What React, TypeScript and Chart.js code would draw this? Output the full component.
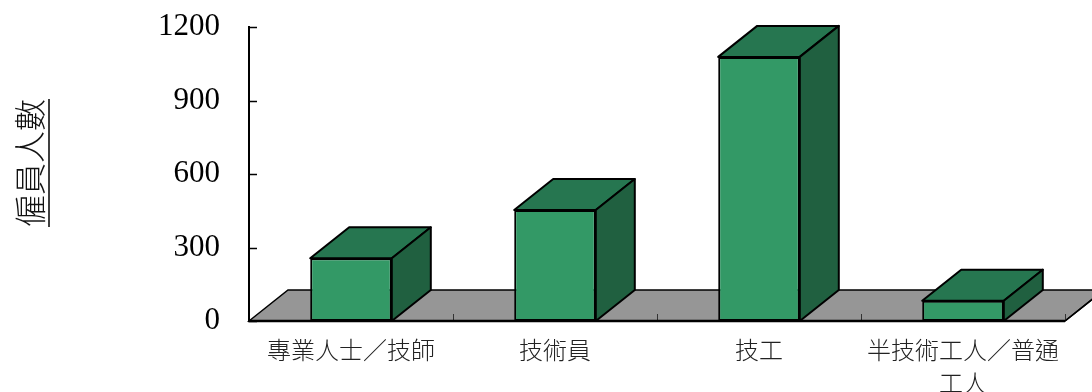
import React, { useEffect, useRef } from "react";
import { Chart, registerables } from "chart.js";

Chart.register(...registerables);

const categories: (string | string[])[] = [
  "專業人士／技師",
  "技術員",
  "技工",
  ["半技術工人／普通", "工人"],
];
const employees: number[] = [256, 453, 1078, 83];
const yTicks: number[] = [0, 300, 600, 900, 1200];
const yTitle = "僱員人數";

const DEPTH_X = 39;
const DEPTH_Y = -31;

const threeD = {
  id: "threeD",
  beforeDatasetsDraw(chart: any) {
    const { ctx, chartArea } = chart;
    const { left, right, bottom } = chartArea;
    ctx.save();
    // floor
    ctx.beginPath();
    ctx.moveTo(left, bottom);
    ctx.lineTo(left + DEPTH_X, bottom + DEPTH_Y);
    ctx.lineTo(right + DEPTH_X, bottom + DEPTH_Y);
    ctx.lineTo(right, bottom);
    ctx.closePath();
    ctx.fillStyle = "#969696";
    ctx.fill();
    ctx.lineWidth = 1.5;
    ctx.strokeStyle = "#000";
    ctx.stroke();
    // category tick marks
    const n = categories.length;
    const step = (right - left) / n;
    ctx.lineWidth = 1;
    ctx.strokeStyle = "#333";
    for (let i = 1; i <= n; i++) {
      const x = Math.round(left + step * i) + 0.5;
      ctx.beginPath();
      ctx.moveTo(x, bottom);
      ctx.lineTo(x, bottom - 7);
      ctx.stroke();
    }
    ctx.restore();
  },
  afterDatasetsDraw(chart: any) {
    const { ctx, chartArea } = chart;
    const meta = chart.getDatasetMeta(0);
    ctx.save();
    ctx.lineWidth = 2;
    ctx.strokeStyle = "#000";
    ctx.lineJoin = "round";
    meta.data.forEach((bar: any) => {
      const { x, y, width, base } = bar.getProps(["x", "y", "width", "base"], true);
      const xl = x - width / 2;
      const xr = x + width / 2;
      // top face
      ctx.beginPath();
      ctx.moveTo(xl, y);
      ctx.lineTo(xl + DEPTH_X, y + DEPTH_Y);
      ctx.lineTo(xr + DEPTH_X, y + DEPTH_Y);
      ctx.lineTo(xr, y);
      ctx.closePath();
      ctx.fillStyle = "#267650";
      ctx.fill();
      ctx.stroke();
      // side face
      ctx.beginPath();
      ctx.moveTo(xr, y);
      ctx.lineTo(xr + DEPTH_X, y + DEPTH_Y);
      ctx.lineTo(xr + DEPTH_X, base + DEPTH_Y);
      ctx.lineTo(xr, base);
      ctx.closePath();
      ctx.fillStyle = "#206040";
      ctx.fill();
      ctx.stroke();
    });
    // axes
    const ys = chart.scales.y;
    const { left, right, top, bottom } = chartArea;
    ctx.lineWidth = 2;
    ctx.beginPath();
    ctx.moveTo(left, top - 1);
    ctx.lineTo(left, bottom);
    ctx.stroke();
    ctx.lineWidth = 1.5;
    yTicks.forEach((v) => {
      const py = Math.round(ys.getPixelForValue(v)) + 0.5;
      ctx.beginPath();
      ctx.moveTo(left, py);
      ctx.lineTo(left + 8, py);
      ctx.stroke();
    });
    ctx.lineWidth = 2.5;
    ctx.beginPath();
    ctx.moveTo(left - 1, bottom);
    ctx.lineTo(right, bottom);
    ctx.stroke();
    ctx.lineWidth = 1.5;
    ctx.beginPath();
    ctx.moveTo(right, bottom);
    ctx.lineTo(right + DEPTH_X, bottom + DEPTH_Y);
    ctx.stroke();
    // y title, rotated with underline
    ctx.translate(30, (top + bottom) / 2 - 11);
    ctx.rotate(-Math.PI / 2);
    ctx.font = "300 32px 'Noto Sans CJK TC'";
    ctx.fillStyle = "#111";
    ctx.textAlign = "center";
    ctx.textBaseline = "middle";
    ctx.fillText(yTitle, 0, 0);
    const w = ctx.measureText(yTitle).width;
    ctx.lineWidth = 1.5;
    ctx.beginPath();
    ctx.moveTo(-w / 2, 19);
    ctx.lineTo(w / 2, 19);
    ctx.stroke();
    ctx.restore();
  },
};

export default function App() {
  const ref = useRef<HTMLCanvasElement | null>(null);
  useEffect(() => {
    document.body.style.margin = "0";
    const canvas = ref.current!;
    const chart = new Chart(canvas, {
      type: "bar",
      data: {
        labels: categories,
        datasets: [
          {
            data: employees,
            backgroundColor: "#339966",
            borderColor: "#000",
            borderWidth: 2,
            borderSkipped: false,
            barPercentage: 0.4,
            categoryPercentage: 1,
          },
        ],
      },
      options: {
        animation: false,
        responsive: false,
        maintainAspectRatio: false,
        layout: { padding: { left: 0, right: 27, top: 27, bottom: 0 } },
        plugins: { legend: { display: false }, tooltip: { enabled: false } },
        scales: {
          x: {
            grid: { display: false, drawTicks: false },
            border: { display: false },
            ticks: {
              padding: 13,
              color: "#222",
              maxRotation: 0,
              autoSkip: false,
              font: { family: "'Noto Sans CJK TC'", size: 24, weight: 300, lineHeight: 1.35 },
            },
            afterFit: (s: any) => {
              s.height = 71;
              s.paddingLeft = 0;
              s.paddingRight = 0;
            },
          },
          y: {
            min: 0,
            max: 1200,
            afterBuildTicks: (s: any) => {
              s.ticks = yTicks.map((v) => ({ value: v }));
            },
            grid: { display: false, drawTicks: false },
            border: { display: false },
            ticks: {
              padding: 29,
              color: "#000",
              font: { family: "'Liberation Serif'", size: 31 },
              callback: (v: any) => String(v),
            },
            afterFit: (s: any) => {
              s.width = 249;
              s.paddingTop = 0;
              s.paddingBottom = 0;
            },
          },
        },
      },
      plugins: [threeD],
    });
    return () => chart.destroy();
  }, []);
  return <canvas ref={ref} width={1092} height={392} style={{ display: "block" }} />;
}
